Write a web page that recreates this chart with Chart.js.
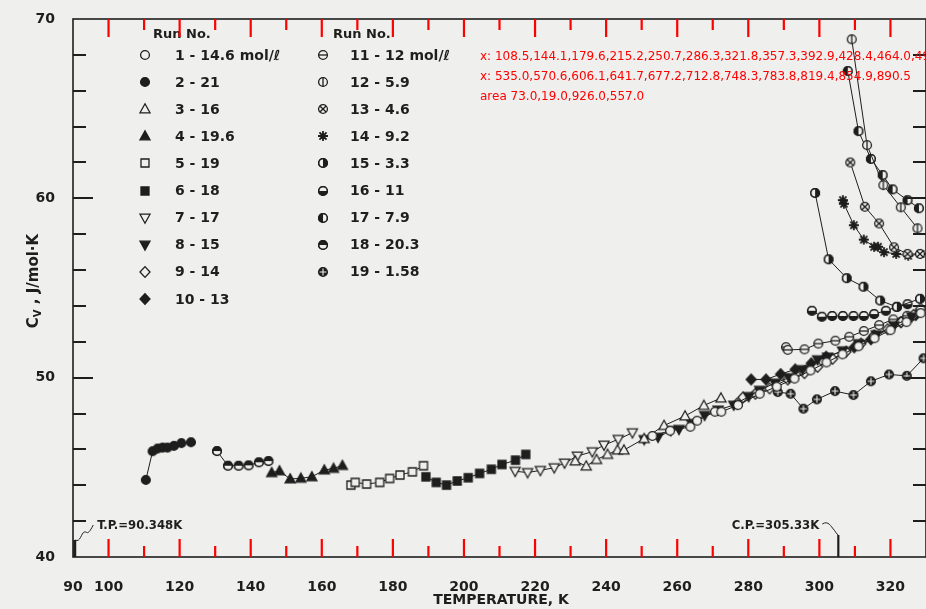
<!DOCTYPE html>
<html>
<head>
<meta charset="utf-8">
<script src="https://cdn.jsdelivr.net/npm/chart.js@4.4.1/dist/chart.umd.min.js"></script>
<style>
  html, body { margin: 0; padding: 0; background: #efefed; overflow: hidden; }
  #wrap { position: relative; width: 940px; height: 609px; }
</style>
</head>
<body>
<div id="wrap"><canvas id="chart"></canvas></div>
<script>
const INK = '#1e1e1e';
const PAPER = '#efefed';

// Run data: temperature (K) and Cv (J/mol·K)
const run1T  = [253.0, 258.0, 263.7, 265.6, 270.6, 272.4, 277.1, 283.2, 288.0, 293.0, 297.5, 302.0, 306.5, 311.0, 315.5, 320.0, 324.5, 328.5];
const run1Cv = [46.75, 47.04, 47.26, 47.6, 48.1, 48.1, 48.47, 49.1, 49.5, 49.95, 50.4, 50.85, 51.3, 51.75, 52.2, 52.65, 53.1, 53.6];
const run2T  = [110.5, 112.4, 113.8, 115.2, 116.6, 118.4, 120.5, 123.2];
const run2Cv = [44.3, 45.9, 46.05, 46.1, 46.1, 46.2, 46.35, 46.4];
const run3T  = [231.3, 234.4, 237.3, 240.4, 243.2, 245.0, 250.7, 256.3, 262.2, 267.5, 272.3];
const run3Cv = [45.35, 45.07, 45.43, 45.72, 45.96, 45.96, 46.6, 47.33, 47.86, 48.45, 48.86];
const run4T  = [145.9, 148.1, 151.1, 154.1, 157.2, 160.7, 163.3, 165.8];
const run4Cv = [44.7, 44.8, 44.35, 44.39, 44.47, 44.85, 44.94, 45.1];
const run5T  = [168.2, 169.4, 172.6, 176.3, 179.1, 182.0, 185.5, 188.6];
const run5Cv = [44.01, 44.16, 44.07, 44.16, 44.38, 44.57, 44.75, 45.09];
const run6T  = [189.3, 192.2, 195.1, 198.1, 201.2, 204.4, 207.7, 210.7, 214.5, 217.4];
const run6Cv = [44.47, 44.16, 44.01, 44.24, 44.42, 44.66, 44.89, 45.16, 45.4, 45.72];
const run7T  = [214.4, 217.9, 221.5, 225.4, 228.3, 231.9, 236.1, 239.4, 243.4, 247.4];
const run7Cv = [44.78, 44.71, 44.83, 44.98, 45.24, 45.63, 45.87, 46.24, 46.56, 46.93];
const run8T  = [250.7, 254.6, 258.2, 260.5, 264.0, 267.7, 271.5, 275.9, 280.1, 283.2, 287.5, 291.5, 295.3, 299.5, 302.3, 306.5, 311.0, 316.0, 321.0, 326.0];
const run8Cv = [46.55, 46.68, 47.05, 47.12, 47.45, 47.9, 48.2, 48.47, 48.95, 49.3, 49.7, 50.0, 50.45, 51.0, 51.15, 51.5, 51.9, 52.4, 52.9, 53.4];
const run9T  = [276.8, 278.5, 282.0, 286.0, 291.1, 295.8, 299.5, 303.7, 307.5, 311.7, 315.4, 319.2, 323.0, 326.5, 328.5];
const run9Cv = [48.55, 48.9, 49.1, 49.4, 49.9, 50.25, 50.6, 51.05, 51.45, 51.9, 52.35, 52.7, 53.1, 53.5, 53.85];
const run10T  = [280.8, 285.0, 289.1, 293.2, 297.7, 301.9, 309.8, 314.5, 322.9, 327.1];
const run10Cv = [49.9, 49.9, 50.2, 50.46, 50.8, 51.17, 51.69, 52.14, 53.1, 53.49];
const run11T  = [290.6, 291.1, 295.8, 299.7, 304.5, 308.4, 312.5, 316.8, 320.8, 324.7];
const run11Cv = [51.7, 51.55, 51.58, 51.9, 52.06, 52.28, 52.6, 52.93, 53.25, 53.45];
const run12T  = [309.1, 313.4, 318.0, 322.9, 327.6];
const run12Cv = [68.87, 62.97, 60.74, 59.5, 58.33];
const run13T  = [308.7, 312.8, 316.8, 321.0, 324.8, 328.3];
const run13Cv = [62.0, 59.53, 58.6, 57.27, 56.9, 56.9];
const run14T  = [306.6, 306.9, 309.7, 312.5, 315.4, 316.5, 318.2, 321.6, 325.0, 328.5];
const run14Cv = [59.9, 59.7, 58.5, 57.7, 57.3, 57.3, 57.0, 56.9, 56.8, 56.9];
const run15T  = [298.8, 302.6, 307.7, 312.4, 317.1, 321.8, 328.3];
const run15Cv = [60.3, 56.6, 55.55, 55.07, 54.3, 53.95, 54.4];
const run16T  = [297.9, 300.7, 303.6, 306.6, 309.6, 312.5, 315.4, 318.7, 321.8, 324.8];
const run16Cv = [53.73, 53.4, 53.44, 53.44, 53.44, 53.44, 53.55, 53.73, 53.95, 54.1];
const run17T  = [308.0, 311.0, 314.5, 317.8, 320.6, 324.8, 328.0];
const run17Cv = [67.1, 63.75, 62.2, 61.3, 60.5, 59.9, 59.45];
const run18T  = [130.5, 133.6, 136.6, 139.4, 142.3, 145.0];
const run18Cv = [45.91, 45.09, 45.09, 45.11, 45.28, 45.35];
const run19T  = [288.3, 291.9, 295.5, 299.3, 304.4, 309.6, 314.5, 319.6, 324.6, 329.3];
const run19Cv = [49.2, 49.1, 48.27, 48.79, 49.25, 49.03, 49.8, 50.18, 50.1, 51.08];

const runLabels = ['1 - 14.6 mol/\u2113', '2 - 21', '3 - 16', '4 - 19.6', '5 - 19', '6 - 18', '7 - 17', '8 - 15', '9 - 14', '10 - 13',
                   '11 - 12 mol/\u2113', '12 - 5.9', '13 - 4.6', '14 - 9.2', '15 - 3.3', '16 - 11', '17 - 7.9', '18 - 20.3', '19 - 1.58'];
const runSymbols = ['circle', 'circleFill', 'tri', 'triFill', 'rect', 'rectFill', 'triDown', 'triDownFill', 'diamond', 'diamondFill',
                    'circleH', 'circleV', 'circleX', 'star', 'halfRight', 'halfBottom', 'halfLeft', 'halfTop', 'crossFill'];
const runT  = [run1T, run2T, run3T, run4T, run5T, run6T, run7T, run8T, run9T, run10T, run11T, run12T, run13T, run14T, run15T, run16T, run17T, run18T, run19T];
const runCv = [run1Cv, run2Cv, run3Cv, run4Cv, run5Cv, run6Cv, run7Cv, run8Cv, run9Cv, run10Cv, run11Cv, run12Cv, run13Cv, run14Cv, run15Cv, run16Cv, run17Cv, run18Cv, run19Cv];

const xTickValues = [100, 110, 120, 130, 140, 150, 160, 170, 180, 190, 200, 210, 220, 230, 240, 250, 260, 270, 280, 290, 300, 310, 320];
const yTickValues = [42, 44, 46, 48, 50, 52, 54, 56, 58, 60, 62, 64, 66, 68];

const triplePointT = 90.348;
const criticalPointT = 305.33;

function makeSymbol(kind) {
  const S = 14, c = S / 2, r = 4.4;
  const cv = document.createElement('canvas');
  cv.width = S; cv.height = S;
  const g = cv.getContext('2d');
  g.lineWidth = 1.3;
  g.strokeStyle = INK;
  g.fillStyle = INK;
  const circle = () => { g.beginPath(); g.arc(c, c, r, 0, Math.PI * 2); };
  const poly = (pts) => { g.beginPath(); pts.forEach((p, i) => i ? g.lineTo(p[0], p[1]) : g.moveTo(p[0], p[1])); g.closePath(); };
  const open = () => { g.fillStyle = PAPER; g.fill(); g.stroke(); g.fillStyle = INK; };
  const solid = () => { g.fill(); g.stroke(); };
  const up = [[c, c - r - 0.8], [c + r + 0.6, c + r - 0.6], [c - r - 0.6, c + r - 0.6]];
  const down = [[c, c + r + 0.8], [c + r + 0.6, c - r + 0.6], [c - r - 0.6, c - r + 0.6]];
  const dia = [[c, c - r - 1], [c + r + 0.6, c], [c, c + r + 1], [c - r - 0.6, c]];
  const sq = [[c - r + 0.4, c - r + 0.4], [c + r - 0.4, c - r + 0.4], [c + r - 0.4, c + r - 0.4], [c - r + 0.4, c + r - 0.4]];
  const half = (a0, a1) => {
    circle(); open();
    g.beginPath(); g.arc(c, c, r, a0, a1); g.closePath(); g.fill();
    circle(); g.stroke();
  };
  switch (kind) {
    case 'circle': circle(); open(); break;
    case 'circleFill': circle(); solid(); break;
    case 'tri': poly(up); open(); break;
    case 'triFill': poly(up); solid(); break;
    case 'rect': poly(sq); open(); break;
    case 'rectFill': poly(sq); solid(); break;
    case 'triDown': poly(down); open(); break;
    case 'triDownFill': poly(down); solid(); break;
    case 'diamond': poly(dia); open(); break;
    case 'diamondFill': poly(dia); solid(); break;
    case 'circleH':
      circle(); open();
      g.beginPath(); g.moveTo(c - r, c); g.lineTo(c + r, c); g.stroke(); break;
    case 'circleV':
      circle(); open();
      g.beginPath(); g.moveTo(c, c - r); g.lineTo(c, c + r); g.stroke(); break;
    case 'circleX': {
      circle(); open();
      const d = r * 0.7;
      g.beginPath(); g.moveTo(c - d, c - d); g.lineTo(c + d, c + d); g.moveTo(c + d, c - d); g.lineTo(c - d, c + d); g.stroke(); break;
    }
    case 'star':
      g.lineWidth = 1.8;
      g.beginPath();
      for (let k = 0; k < 8; k++) {
        const a = k * Math.PI / 4;
        g.moveTo(c, c); g.lineTo(c + Math.cos(a) * (r + 0.6), c + Math.sin(a) * (r + 0.6));
      }
      g.stroke();
      g.beginPath(); g.arc(c, c, 2, 0, Math.PI * 2); g.fill();
      break;
    case 'halfRight': half(-Math.PI / 2, Math.PI / 2); break;
    case 'halfBottom': half(0, Math.PI); break;
    case 'halfLeft': half(Math.PI / 2, Math.PI * 1.5); break;
    case 'halfTop': half(Math.PI, Math.PI * 2); break;
    case 'crossFill':
      circle(); solid();
      g.strokeStyle = PAPER; g.lineWidth = 1.1;
      g.beginPath(); g.moveTo(c - r + 1, c); g.lineTo(c + r - 1, c); g.moveTo(c, c - r + 1); g.lineTo(c, c + r - 1); g.stroke();
      break;
  }
  return cv;
}

const symbolCanvases = runSymbols.map(makeSymbol);

const datasets = runT.map((T, i) => ({
  label: runLabels[i],
  data: T.map((t, j) => ({ x: t, y: runCv[i][j] })),
  showLine: true,
  borderColor: INK,
  borderWidth: 1,
  pointStyle: symbolCanvases[i],
  pointRadius: 5,
  pointHoverRadius: 5,
  fill: false,
  tension: 0
}));

// temporary check: temperature ticks in red, with their pixel positions printed
const xTickPlugin = {
  id: 'xticks',
  afterDraw(chart) {
    const ctx = chart.ctx;
    const a = chart.chartArea;
    const xs = chart.scales.x;
    ctx.save();
    const vals = xTickValues.map(v => xs.getPixelForValue(v).toFixed(1));
    ctx.fillStyle = 'red';
    ctx.font = '12px DejaVu Sans';
    ctx.fillText('x: ' + vals.slice(0, 12).join(','), 480, 60);
    ctx.fillText('x: ' + vals.slice(12).join(','), 480, 80);
    ctx.fillText('area ' + [a.left, a.top, a.right, a.bottom].map(n => n.toFixed(1)).join(','), 480, 100);
    for (const v of xTickValues) {
      const px = xs.getPixelForValue(v);
      const len = v % 20 === 0 ? 18 : 11;
      ctx.fillStyle = 'red';
      ctx.fillRect(px - 1.1, a.bottom - len, 2.2, len);
      ctx.fillRect(px - 1.1, a.top, 2.2, len);
    }
    ctx.restore();
  }
};

const decorPlugin = {
  id: 'decor',
  afterDraw(chart) {
    const { ctx, chartArea: a } = chart;
    const xs = chart.scales.x, ys = chart.scales.y;
    ctx.save();
    ctx.fillStyle = INK;
    ctx.strokeStyle = INK;
    ctx.lineWidth = 1.6;
    ctx.strokeRect(a.left, a.top, a.right - a.left, a.bottom - a.top);
    for (const v of yTickValues) {
      const py = Math.round(ys.getPixelForValue(v));
      const len = v % 10 === 0 ? 20 : 13;
      ctx.fillRect(a.left, py - 1, len, 2);
      ctx.fillRect(a.right - len, py - 1, len, 2);
    }
    const tp = xs.getPixelForValue(triplePointT);
    ctx.fillRect(tp - 1, a.bottom - 17, 3, 17);
    ctx.lineWidth = 1;
    ctx.beginPath();
    ctx.moveTo(tp + 1, a.bottom - 17);
    ctx.bezierCurveTo(tp + 6, a.bottom - 14, tp + 7, a.bottom - 24, tp + 10, a.bottom - 25);
    ctx.bezierCurveTo(tp + 13, a.bottom - 26, tp + 13, a.bottom - 20, tp + 19, a.bottom - 32);
    ctx.stroke();
    const cp = xs.getPixelForValue(criticalPointT);
    ctx.fillRect(cp - 1.1, a.bottom - 22, 2.2, 22);
    ctx.beginPath();
    ctx.moveTo(cp - 16, a.bottom - 33);
    ctx.bezierCurveTo(cp - 10, a.bottom - 37, cp - 7, a.bottom - 30, cp - 5, a.bottom - 28);
    ctx.bezierCurveTo(cp - 3, a.bottom - 26, cp - 2, a.bottom - 23, cp, a.bottom - 22);
    ctx.stroke();
    ctx.font = "bold 13px 'Liberation Sans Narrow', 'DejaVu Sans Condensed', 'DejaVu Sans', sans-serif";
    ctx.textBaseline = 'middle';
    ctx.textAlign = 'left';
    ctx.fillText('T.P.=90.348K', tp + 23, a.bottom - 31);
    ctx.textAlign = 'right';
    ctx.fillText('C.P.=305.33K', cp - 19, a.bottom - 31);
    ctx.font = "bold 14px 'DejaVu Sans', sans-serif";
    ctx.textAlign = 'center';
    ctx.fillText('TEMPERATURE, K', 501, 600);
    ctx.textAlign = 'left';
    ctx.font = "bold 13px 'DejaVu Sans', sans-serif";
    ctx.fillText('Run No.', a.left + 80, a.top + 16);
    ctx.fillText('Run No.', a.left + 260, a.top + 16);
    ctx.font = "bold 14px 'DejaVu Sans', sans-serif";
    runLabels.forEach((lab, i) => {
      const col = i < 10 ? 0 : 1;
      const row = col ? i - 10 : i;
      const yy = a.top + 36 + row * 27.1;
      const symX = col ? a.left + 250 : a.left + 72;
      const txtX = col ? a.left + 277 : a.left + 102;
      const s = symbolCanvases[i];
      ctx.drawImage(s, Math.round(symX - s.width / 2), Math.round(yy - s.height / 2));
      ctx.fillText(lab, txtX, yy + 1);
    });
    ctx.translate(34, 281);
    ctx.rotate(-Math.PI / 2);
    const big = "bold 15px 'DejaVu Sans', sans-serif";
    const small = "bold 10px 'DejaVu Sans', sans-serif";
    ctx.font = big; const wC = ctx.measureText('C').width; const wRest = ctx.measureText(' , J/mol\u00b7K').width;
    ctx.font = small; const wV = ctx.measureText('V').width;
    let sx = -(wC + wV + wRest) / 2;
    ctx.font = big; ctx.fillText('C', sx, 0); sx += wC;
    ctx.font = small; ctx.fillText('V', sx, 4); sx += wV;
    ctx.font = big; ctx.fillText(' , J/mol\u00b7K', sx, 0);
    ctx.restore();
  }
};

Chart.defaults.font.family = "'DejaVu Sans', sans-serif";
Chart.defaults.color = INK;

new Chart(document.getElementById('chart'), {
  type: 'scatter',
  data: { datasets },
  options: {
    responsive: true,
    maintainAspectRatio: false,
    animation: false,
    layout: { padding: { top: 19, right: 11, left: 0, bottom: 0 } },
    plugins: { legend: { display: false }, tooltip: { enabled: false } },
    scales: {
      x: {
        type: 'linear', min: 90, max: 330,
        grid: { display: false }, border: { display: false },
        ticks: {
          stepSize: 10, autoSkip: false, maxRotation: 0, padding: 14,
          font: { size: 14, weight: 'bold' }, color: INK,
          callback: v => (v === 90 || v % 20 === 0) && v <= 320 ? v : ''
        },
        afterFit: s => { s.height = 52; }
      },
      y: {
        type: 'linear', min: 40, max: 70,
        grid: { display: false }, border: { display: false },
        ticks: {
          stepSize: 2, autoSkip: false, padding: 10,
          font: { size: 14, weight: 'bold' }, color: INK,
          callback: v => v % 10 === 0 ? v : ''
        },
        afterFit: s => { s.width = 73; }
      }
    }
  },
  plugins: [decorPlugin, xTickPlugin]
});
</script>
</body>
</html>
